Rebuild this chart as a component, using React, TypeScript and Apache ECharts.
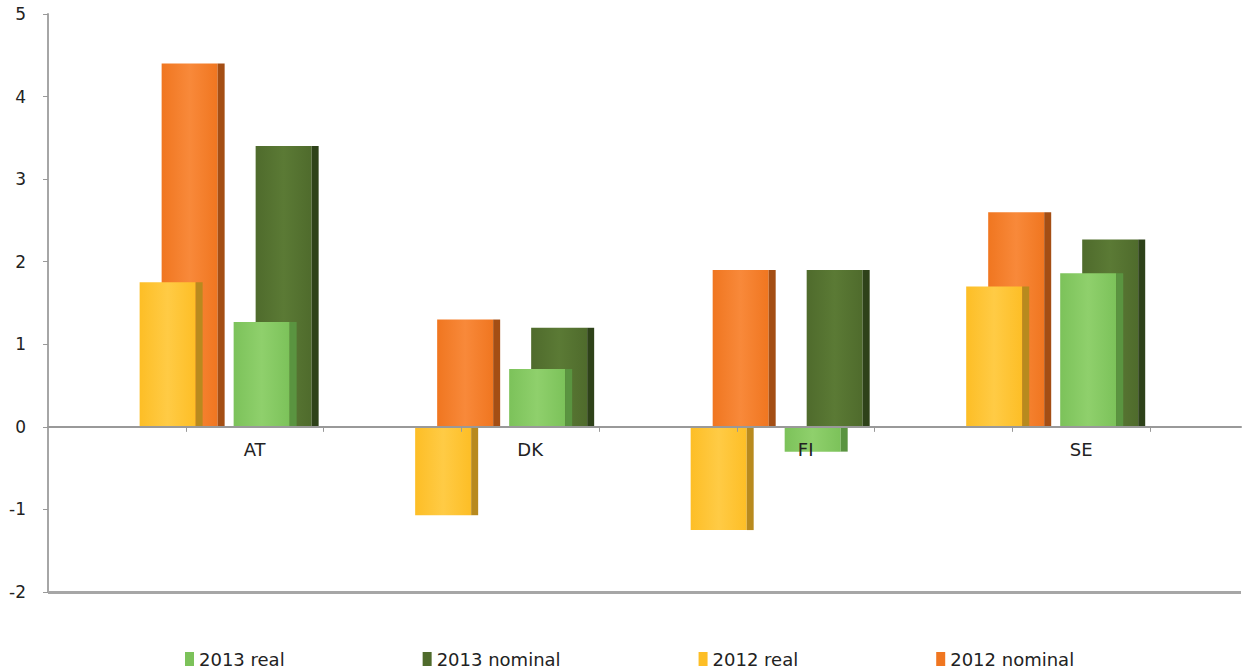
import React, { useEffect, useRef } from "react";
import * as echarts from "echarts";

const categories = ["AT", "DK", "FI", "SE"];
const real2012 = [1.75, -1.07, -1.25, 1.7];
const nominal2012 = [4.4, 1.3, 1.9, 2.6];
const real2013 = [1.27, 0.7, -0.3, 1.86];
const nominal2013 = [3.4, 1.2, 1.9, 2.27];
const yTicks = [-2, -1, 0, 1, 2, 3, 4, 5];

const FONT = "'DejaVu Sans', Verdana, sans-serif";

type SeriesDef = {
  name: string;
  values: number[];
  color: string;
  light: string;
  side: string;
  offset: number; // px offset of bar left from category centre (at 275.5 px band)
};

const seriesDefs: SeriesDef[] = [
  { name: "2013 nominal", values: nominal2013, color: "#4F6B2C", light: "#5B7A35", side: "#2E4219", offset: 1 },
  { name: "2013 real", values: real2013, color: "#7CC25A", light: "#8FD06C", side: "#5A9440", offset: -21 },
  { name: "2012 nominal", values: nominal2012, color: "#F07620", light: "#F8893A", side: "#A44E14", offset: -93 },
  { name: "2012 real", values: real2012, color: "#FDBE26", light: "#FFCB45", side: "#B88A1E", offset: -115 },
];

export default function App() {
  const ref = useRef<HTMLDivElement>(null);
  useEffect(() => {
    document.body.style.margin = "0";
    if (!ref.current) return;
    const chart = echarts.init(ref.current, null, { renderer: "svg" });
    const series: any[] = seriesDefs.map((s, si) => ({
      name: s.name,
      type: "custom",
      itemStyle: { color: s.color },
      data: s.values.map((v, i) => [i, v]),
      renderItem: (params: any, api: any) => {
        const cat = api.value(0);
        const v = api.value(1);
        const band = api.size([1, 0])[0];
        const k = band / 275.5;
        const base = api.coord([cat, 0]);
        const top = api.coord([cat, v]);
        const w = 56 * k;
        const sw = 7 * k;
        const x = base[0] + s.offset * k;
        const y = Math.min(base[1], top[1]);
        const h = Math.abs(base[1] - top[1]);
        return {
          type: "group",
          children: [
            {
              type: "rect",
              shape: { x, y, width: w, height: h },
              style: {
                fill: new echarts.graphic.LinearGradient(0, 0, 1, 0, [
                  { offset: 0, color: s.color },
                  { offset: 0.5, color: s.light },
                  { offset: 1, color: s.color },
                ]),
              },
            },
            {
              type: "rect",
              shape: { x: x + w, y, width: sw, height: h },
              style: { fill: s.side },
            },
          ],
        };
      },
      markLine:
        si === 0
          ? {
              silent: true,
              symbol: "none",
              label: { show: false },
              lineStyle: { color: "#A6A6A6", width: 3, type: "solid" },
              data: [{ yAxis: -2 }],
            }
          : undefined,
      z: 2 + si,
    }));

    const gridTop = 14;
    const gridBottom = 78;
    const plotH = 670 - gridTop - gridBottom;
    const zeroOffset = -(plotH * (0 - yTicks[0])) / (yTicks[yTicks.length - 1] - yTicks[0]);

    chart.setOption({
      animation: false,
      backgroundColor: "#ffffff",
      grid: { left: 48, right: 6, top: gridTop, bottom: gridBottom, containLabel: false },
      legend: {
        data: ["2013 real", "2013 nominal", "2012 real", "2012 nominal"],
        left: 180,
        top: 645,
        icon: "rect",
        itemWidth: 9,
        itemHeight: 14,
        itemGap: 138,
        textStyle: { fontFamily: FONT, fontSize: 18, color: "#222" },
      },
      xAxis: {
        type: "value",
        min: -0.75,
        max: 3.58,
        position: "bottom",
        offset: zeroOffset,
        z: 20,
        axisLine: { show: true, onZero: false, lineStyle: { color: "#999", width: 2 } },
        axisTick: {
          show: true,
          customValues: [-0.25, 0.25, 0.75, 1.25, 1.75, 2.25, 2.75, 3.25],
          length: 5,
          lineStyle: { color: "#999" },
        },
        axisLabel: {
          customValues: [0, 1, 2, 3],
          formatter: (v: number) => categories[Math.round(v)] ?? "",
          fontFamily: FONT,
          fontSize: 18,
          color: "#222",
          margin: 14,
        },
        splitLine: { show: false },
      },
      yAxis: {
        type: "value",
        min: yTicks[0],
        max: yTicks[yTicks.length - 1],
        interval: 1,
        axisLine: { show: true, onZero: false, lineStyle: { color: "#A6A6A6", width: 2 } },
        axisTick: { show: true, length: 5, lineStyle: { color: "#999" } },
        axisLabel: { fontFamily: FONT, fontSize: 17, color: "#222", margin: 22 },
        splitLine: { show: false },
      },
      series,
    });
    return () => chart.dispose();
  }, []);
  return <div ref={ref} style={{ width: 1247, height: 670 }} />;
}
